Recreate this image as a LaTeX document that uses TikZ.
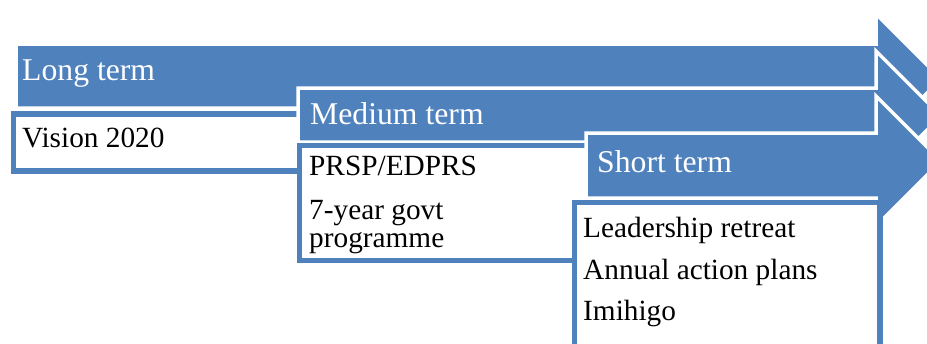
\documentclass[tikz,border=0pt]{standalone}
\usepackage{fontspec}
\setmainfont{Liberation Serif}
\definecolor{termblue}{HTML}{4F81BD}

\tikzstyle{term arrow} = [fill=termblue, draw=white, line width=3.5pt, line join=miter]
\tikzstyle{term box} = [fill=white, draw=termblue, line width=5.5pt]
\tikzstyle{term title} = [anchor=base west, inner sep=0pt, text=white, font=\fontsize{31.7}{34}\selectfont]
\tikzstyle{term item} = [anchor=base west, inner sep=0pt, text=black, align=left, font=\fontsize{29.3}{28}\selectfont]

\begin{document}
\begin{tikzpicture}[x=1pt,y=-1pt]
  \useasboundingbox (0,0) rectangle (927,343);
  \clip (0,0) rectangle (927,343);
  % arrows and their boxes, back to front
  \foreach \xl/\top/\htop/\bot/\bxl/\bxt/\bxr/\bxb in {16/44/14/108/13.5/114/310/171, 298/88/51/142/299.5/145.5/600/260.5, 586/133/96/198/574.5/202.5/880/350} {
      \path[term arrow] (\xl,\top) -- (876,\top) -- (876,\htop) -- (941,\htop+65) -- (876,\htop+130) -- (876,\bot) -- (\xl,\bot) -- cycle;
      \path[term box] (\bxl,\bxt) rectangle (\bxr,\bxb);
  }
  \foreach \pos/\name/\txt in {{(22,80)/long/Long term}, {(310,124)/medium/Medium term}, {(597,172)/short/Short term}} {
      \node[term title] (\name) at \pos {\txt};
  }
  \foreach \pos/\name/\txt in {{(22,147)/vision/Vision 2020}, {(309,175)/prsp/{PRSP/EDPRS}}, {(583,237)/retreat/Leadership retreat}, {(583,279)/plans/Annual action plans}, {(583,320)/imihigo/Imihigo}} {
      \node[term item] (\name) at \pos {\txt};
  }
  % base of a two-line node sits on its last line
  \node[term item] (govt) at (309,247) {7-year govt\\programme};
\end{tikzpicture}
\end{document}
